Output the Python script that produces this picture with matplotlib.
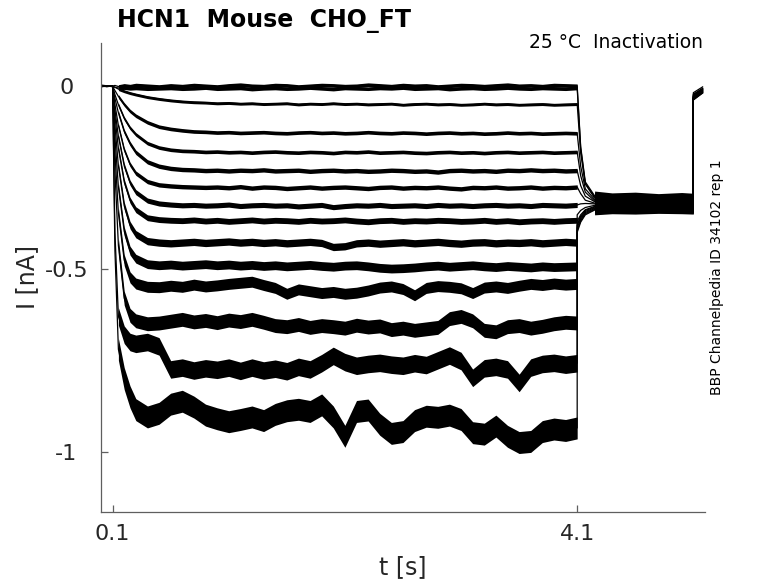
import numpy as np
import matplotlib
matplotlib.use("Agg")
import matplotlib.pyplot as plt

plt.rcParams["font.family"] = ["DejaVu Sans"]
plt.rcParams["axes.unicode_minus"] = False

# ==========================================================
# Donnees (I en nA, t en s)
# ==========================================================
t_s = [0.00, 0.05, 0.10, 0.12, 0.15, 0.20, 0.25, 0.30, 0.40, 0.50,
       0.60, 0.70, 0.80, 0.90, 1.00, 1.10, 1.20, 1.30, 1.40, 1.50,
       1.60, 1.70, 1.80, 1.90, 2.00, 2.10, 2.20, 2.30, 2.40, 2.50,
       2.60, 2.70, 2.80, 2.90, 3.00, 3.10, 3.20, 3.30, 3.40, 3.50,
       3.60, 3.70, 3.80, 3.90, 4.00, 4.10,
       4.10, 4.13, 4.17, 4.25, 4.40, 4.60, 4.80, 5.00, 5.10, 5.10, 5.18]

I_sw01 = [0.003, 0.001, 0.000, 0.002, -0.001, 0.002, 0.000, 0.003, 0.001, -0.001,
          0.002, 0.000, 0.003, 0.001, -0.001, 0.002, 0.004, 0.001, 0.000, 0.003,
          0.002, -0.001, 0.001, 0.003, 0.002, 0.000, 0.001, 0.004, 0.002, 0.000,
          0.003, 0.001, 0.002, -0.001, 0.001, 0.003, 0.002, 0.000, 0.002, 0.004,
          0.001, 0.002, 0.000, 0.003, 0.002, 0.001,
          0.001, -0.165, -0.262, -0.300, -0.305, -0.303, -0.307, -0.304, -0.306, -0.018, -0.002]
I_sw02 = [-0.002, 0.001, -0.001, -0.003, -0.005, -0.004, -0.006, -0.005, -0.007, -0.006,
          -0.005, -0.007, -0.006, -0.004, -0.007, -0.006, -0.005, -0.008, -0.006, -0.005,
          -0.007, -0.006, -0.004, -0.006, -0.008, -0.005, -0.006, -0.007, -0.005, -0.006,
          -0.004, -0.007, -0.006, -0.005, -0.008, -0.006, -0.005, -0.007, -0.006, -0.004,
          -0.006, -0.007, -0.005, -0.006, -0.007, -0.005,
          -0.006, -0.170, -0.266, -0.303, -0.309, -0.308, -0.310, -0.307, -0.309, -0.022, -0.006]
I_sw03 = [0.001, -0.001, 0.000, -0.003, -0.008, -0.014, -0.019, -0.023, -0.030, -0.035,
          -0.039, -0.042, -0.044, -0.045, -0.047, -0.046, -0.048, -0.047, -0.049, -0.048,
          -0.047, -0.050, -0.048, -0.049, -0.047, -0.049, -0.048, -0.050, -0.049, -0.048,
          -0.051, -0.049, -0.048, -0.050, -0.049, -0.051, -0.050, -0.048, -0.050, -0.049,
          -0.051, -0.050, -0.049, -0.051, -0.050, -0.049,
          -0.049, -0.183, -0.268, -0.306, -0.311, -0.309, -0.312, -0.310, -0.311, -0.024, -0.007]
I_sw04 = [0.002, 0.000, -0.001, -0.012, -0.028, -0.050, -0.068, -0.081, -0.099, -0.111,
          -0.117, -0.121, -0.124, -0.125, -0.127, -0.126, -0.128, -0.127, -0.126, -0.128,
          -0.129, -0.127, -0.126, -0.128, -0.127, -0.129, -0.128, -0.126, -0.128, -0.129,
          -0.127, -0.128, -0.130, -0.128, -0.127, -0.129, -0.128, -0.130, -0.129, -0.127,
          -0.129, -0.128, -0.130, -0.129, -0.128, -0.129,
          -0.129, -0.219, -0.281, -0.310, -0.313, -0.312, -0.314, -0.313, -0.312, -0.026, -0.008]
I_sw05 = [0.000, 0.001, 0.000, -0.023, -0.051, -0.088, -0.114, -0.132, -0.156, -0.168,
          -0.174, -0.177, -0.178, -0.180, -0.179, -0.181, -0.180, -0.182, -0.180, -0.179,
          -0.181, -0.182, -0.180, -0.181, -0.183, -0.180, -0.181, -0.179, -0.182, -0.181,
          -0.180, -0.182, -0.183, -0.181, -0.180, -0.182, -0.181, -0.183, -0.181, -0.180,
          -0.182, -0.181, -0.180, -0.182, -0.181, -0.180,
          -0.180, -0.245, -0.290, -0.314, -0.316, -0.315, -0.317, -0.316, -0.315, -0.028, -0.009]
I_sw06 = [-0.001, 0.001, 0.000, -0.033, -0.073, -0.124, -0.157, -0.181, -0.207, -0.219,
          -0.225, -0.228, -0.229, -0.231, -0.230, -0.232, -0.230, -0.231, -0.229, -0.232,
          -0.231, -0.230, -0.233, -0.231, -0.230, -0.232, -0.231, -0.233, -0.232, -0.230,
          -0.231, -0.233, -0.232, -0.235, -0.231, -0.230, -0.232, -0.231, -0.233, -0.230,
          -0.231, -0.229, -0.231, -0.230, -0.232, -0.231,
          -0.231, -0.272, -0.301, -0.316, -0.318, -0.317, -0.319, -0.318, -0.317, -0.029, -0.010]
I_sw07 = [0.000, 0.001, -0.001, -0.050, -0.108, -0.174, -0.214, -0.238, -0.261, -0.270,
          -0.273, -0.275, -0.276, -0.277, -0.276, -0.278, -0.275, -0.279, -0.276, -0.277,
          -0.280, -0.278, -0.276, -0.279, -0.277, -0.276, -0.278, -0.280, -0.277, -0.276,
          -0.279, -0.277, -0.278, -0.276, -0.279, -0.281, -0.277, -0.278, -0.276, -0.279,
          -0.278, -0.276, -0.279, -0.277, -0.278, -0.276,
          -0.276, -0.294, -0.312, -0.320, -0.321, -0.320, -0.322, -0.321, -0.320, -0.030, -0.011]
I_sw08 = [0.001, 0.000, 0.000, -0.065, -0.138, -0.218, -0.264, -0.290, -0.313, -0.321,
          -0.324, -0.326, -0.325, -0.327, -0.326, -0.324, -0.328, -0.326, -0.325, -0.327,
          -0.326, -0.329, -0.327, -0.325, -0.331, -0.328, -0.326, -0.327, -0.325, -0.328,
          -0.327, -0.326, -0.328, -0.325, -0.327, -0.326, -0.328, -0.326, -0.325, -0.327,
          -0.326, -0.328, -0.325, -0.326, -0.327, -0.325,
          -0.325, -0.322, -0.321, -0.322, -0.321, -0.323, -0.322, -0.321, -0.322, -0.031, -0.012]
I_sw09 = [0.000, -0.001, 0.001, -0.081, -0.171, -0.262, -0.312, -0.338, -0.360, -0.365,
          -0.367, -0.368, -0.366, -0.369, -0.367, -0.370, -0.368, -0.366, -0.369, -0.367,
          -0.368, -0.370, -0.367, -0.369, -0.368, -0.366, -0.369, -0.371, -0.368, -0.367,
          -0.370, -0.368, -0.369, -0.367, -0.368, -0.370, -0.369, -0.367, -0.370, -0.368,
          -0.371, -0.369, -0.368, -0.370, -0.368, -0.367,
          -0.352, -0.340, -0.332, -0.326, -0.324, -0.325, -0.323, -0.325, -0.324, -0.032, -0.013]
I_sw10 = [0.001, 0.000, -0.001, -0.107, -0.219, -0.327, -0.380, -0.405, -0.424, -0.428,
          -0.430, -0.428, -0.426, -0.429, -0.427, -0.425, -0.428, -0.426, -0.429, -0.427,
          -0.430, -0.428, -0.426, -0.429, -0.440, -0.438, -0.430, -0.428, -0.431, -0.429,
          -0.427, -0.430, -0.428, -0.426, -0.429, -0.431, -0.428, -0.427, -0.430, -0.428,
          -0.429, -0.427, -0.430, -0.428, -0.426, -0.428,
          -0.370, -0.352, -0.338, -0.329, -0.326, -0.327, -0.325, -0.326, -0.327, -0.033, -0.014]
I_sw11 = [0.000, 0.001, 0.000, -0.139, -0.277, -0.397, -0.450, -0.472, -0.487, -0.490,
          -0.488, -0.491, -0.489, -0.487, -0.490, -0.488, -0.491, -0.489, -0.492, -0.490,
          -0.493, -0.491, -0.489, -0.492, -0.494, -0.491, -0.490, -0.493, -0.497, -0.499,
          -0.498, -0.496, -0.493, -0.491, -0.494, -0.492, -0.490, -0.493, -0.495, -0.492,
          -0.494, -0.496, -0.493, -0.495, -0.494, -0.493,
          -0.378, -0.356, -0.340, -0.331, -0.328, -0.329, -0.327, -0.328, -0.329, -0.034, -0.015]
I_sw12 = [-0.001, 0.000, 0.001, -0.181, -0.348, -0.476, -0.523, -0.540, -0.549, -0.550,
          -0.546, -0.549, -0.543, -0.548, -0.545, -0.541, -0.538, -0.535, -0.544, -0.552,
          -0.568, -0.556, -0.561, -0.566, -0.563, -0.568, -0.565, -0.559, -0.551, -0.548,
          -0.555, -0.572, -0.552, -0.547, -0.549, -0.553, -0.566, -0.551, -0.548, -0.552,
          -0.546, -0.541, -0.544, -0.540, -0.543, -0.541,
          -0.382, -0.360, -0.343, -0.333, -0.330, -0.331, -0.329, -0.330, -0.331, -0.035, -0.016]
I_sw13 = [0.001, -0.001, 0.000, -0.233, -0.436, -0.580, -0.627, -0.642, -0.650, -0.648,
          -0.643, -0.638, -0.645, -0.641, -0.647, -0.640, -0.644, -0.638, -0.646, -0.655,
          -0.658, -0.652, -0.660, -0.655, -0.658, -0.662, -0.654, -0.659, -0.656, -0.666,
          -0.662, -0.668, -0.664, -0.660, -0.636, -0.630, -0.642, -0.668, -0.672, -0.658,
          -0.655, -0.662, -0.657, -0.650, -0.646, -0.648,
          -0.388, -0.364, -0.346, -0.335, -0.332, -0.333, -0.331, -0.332, -0.333, -0.036, -0.017]
I_sw14 = [0.000, 0.001, -0.001, -0.400, -0.630, -0.680, -0.700, -0.705, -0.700, -0.712,
          -0.775, -0.770, -0.778, -0.772, -0.776, -0.770, -0.779, -0.770, -0.778, -0.773,
          -0.780, -0.768, -0.775, -0.758, -0.738, -0.755, -0.765, -0.760, -0.757, -0.762,
          -0.765, -0.758, -0.763, -0.750, -0.737, -0.752, -0.798, -0.772, -0.768, -0.775,
          -0.812, -0.770, -0.760, -0.757, -0.762, -0.758,
          -0.395, -0.368, -0.349, -0.337, -0.334, -0.335, -0.333, -0.334, -0.335, -0.037, -0.018]
I_sw15 = [0.001, 0.000, 0.000, -0.450, -0.720, -0.800, -0.850, -0.885, -0.905, -0.895,
          -0.870, -0.862, -0.878, -0.900, -0.910, -0.918, -0.912, -0.905, -0.915, -0.898,
          -0.888, -0.884, -0.890, -0.872, -0.905, -0.958, -0.890, -0.886, -0.925, -0.950,
          -0.945, -0.915, -0.903, -0.906, -0.900, -0.912, -0.948, -0.952, -0.930, -0.958,
          -0.975, -0.972, -0.945, -0.938, -0.942, -0.935,
          -0.400, -0.372, -0.352, -0.339, -0.336, -0.337, -0.335, -0.336, -0.337, -0.038, -0.019]

# largeur du bruit (demi-bande, nA) pendant le pulse test
bruit_test = [0.005, 0.005, 0.004, 0.005, 0.005, 0.006, 0.006, 0.007,
              0.008, 0.010, 0.012, 0.015, 0.019, 0.024, 0.030]
bruit_queue = 0.013

y_ticks = [-1, -0.5, 0]
y_tick_labels = ["-1", "-0.5", "0"]
x_ticks = [0.1, 4.1]
x_tick_labels = ["0.1", "4.1"]

sweeps = [I_sw01, I_sw02, I_sw03, I_sw04, I_sw05, I_sw06, I_sw07, I_sw08,
          I_sw09, I_sw10, I_sw11, I_sw12, I_sw13, I_sw14, I_sw15]

# ==========================================================
# Figure
# ==========================================================
fig = plt.figure(figsize=(7.78, 5.83), dpi=100)
ax = fig.add_axes([0.1298, 0.1218, 0.7763, 0.8044])

t = np.array(t_s)
for I, w in zip(sweeps, bruit_test):
    I = np.array(I)
    ax.plot(t, I, color="black", linewidth=0.9)
    ax.fill_between(t[4:46], I[4:46] - w, I[4:46] + w,
                    color="black", linewidth=0)
    ax.fill_between(t[49:55], I[49:55] - bruit_queue, I[49:55] + bruit_queue,
                    color="black", linewidth=0)

ax.set_xlim(0, 5.2)
ax.set_ylim(-1.165, 0.118)

ax.spines["top"].set_visible(False)
ax.spines["right"].set_visible(False)
for s in ["left", "bottom"]:
    ax.spines[s].set_color("#5f5f5f")
    ax.spines[s].set_linewidth(0.9)

ax.set_yticks(y_ticks)
ax.set_yticklabels(y_tick_labels)
ax.set_xticks(x_ticks)
ax.set_xticklabels(x_tick_labels)
ax.tick_params(direction="in", length=5, width=0.9, color="#5f5f5f",
               labelsize=16, labelcolor="#262626")
ax.tick_params(axis="y", pad=25)
ax.tick_params(axis="x", pad=9)
for lab in ax.get_yticklabels():
    lab.set_horizontalalignment("center")

fig.text(0.150, 0.9537, "HCN1  Mouse  CHO_FT", fontsize=17,
         fontweight="bold", va="baseline", ha="left")
fig.text(0.9036, 0.9177, "25 °C  Inactivation", fontsize=13.5,
         va="baseline", ha="right")
fig.text(0.9216, 0.525, "BBP Channelpedia ID 34102 rep 1", fontsize=10,
         rotation=90, ha="center", va="center")
fig.text(0.035, 0.525, "I [nA]", fontsize=17, rotation=90,
         ha="center", va="center", color="#262626")
fig.text(0.518, 0.027, "t [s]", fontsize=17, ha="center", va="center",
         color="#262626")

fig.savefig("out.png", dpi=100)
